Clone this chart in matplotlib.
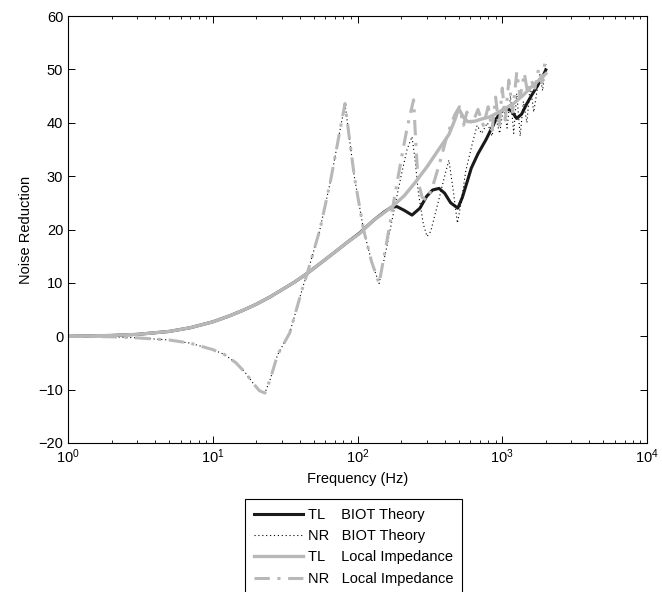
import matplotlib
matplotlib.use("Agg")
import matplotlib.pyplot as plt

plt.rcParams['font.family'] = ['Liberation Sans', 'DejaVu Sans']

# ---- data ----
tl_biot_f = [1, 2, 3, 5, 7, 10, 13, 16, 20, 25, 30, 37, 45, 55, 70, 85, 103, 130, 155, 170, 187,
             210, 238, 270, 300, 330, 366, 400, 440, 493, 530, 570, 611, 680, 771, 901, 970, 1035,
             1150, 1259, 1360, 1480, 1600, 1740, 1900, 2000]
tl_biot_v = [0, 0.15, 0.35, 0.9, 1.6, 2.7, 3.8, 4.8, 6.0, 7.4, 8.7, 10.2, 11.8, 13.6, 15.8, 17.6,
             19.3, 21.8, 23.4, 24.1, 24.3, 23.6, 22.7, 24.0, 26.2, 27.4, 27.7, 26.8, 25.0, 24.0,
             26.0, 28.8, 31.5, 34.2, 36.8, 40.5, 42.0, 42.7, 42.3, 40.8, 41.6, 43.6, 45.2, 46.8,
             48.6, 49.9]

tl_loc_f = [1, 2, 3, 5, 7, 10, 13, 16, 20, 25, 30, 37, 45, 55, 70, 85, 103, 130, 150, 177, 210,
            250, 303, 360, 428, 470, 490, 506, 540, 578, 650, 720, 820, 950, 1050, 1197, 1400,
            1600, 1800, 2000]
tl_loc_v = [0, 0.15, 0.35, 0.9, 1.6, 2.7, 3.8, 4.8, 6.0, 7.4, 8.7, 10.2, 11.8, 13.6, 15.8, 17.6,
            19.2, 21.8, 23.0, 24.5, 26.3, 28.8, 31.8, 34.8, 37.8, 40.5, 42.0, 42.4, 41.0, 40.2,
            40.3, 40.7, 41.1, 42.0, 42.7, 43.6, 45.2, 46.8, 48.0, 49.2]

nr_biot_f = [1, 2, 3, 5, 7, 10, 12, 14.5, 17, 19, 21, 22.9, 25, 28, 34, 42, 45, 55, 65, 75, 82,
             88, 95, 110, 125, 141, 160, 180, 200, 220, 238, 250, 263, 285, 302, 320, 360, 400,
             428, 460, 490, 520, 560, 620, 670, 720, 790, 850, 900, 960, 1020, 1080, 1140, 1200,
             1260, 1330, 1400, 1480, 1560, 1650, 1740, 1820, 1900, 2000]
nr_biot_v = [0, -0.1, -0.3, -0.7, -1.3, -2.5, -3.4, -5.0, -7.0, -8.8, -10.2, -10.65, -8, -3.5,
             0.6, 9.3, 11.8, 20, 29, 38, 43.6, 37, 30, 20, 14, 9.9, 17, 24, 30, 35, 37.4, 33, 27,
             21, 18.7, 19.6, 25, 30, 33, 27, 21.2, 25, 31, 36, 39.5, 38, 40, 37.5, 41, 38, 43, 39,
             45, 38, 45.5, 37.5, 44, 40, 47, 42, 46, 49, 46, 51]

nr_loc_f = [1, 2, 3, 5, 7, 10, 12, 14.5, 17, 19, 21, 22.9, 25, 28, 34, 42, 45, 55, 65, 75, 82, 88,
            95, 110, 125, 141, 160, 180, 200, 220, 244, 252, 262, 280, 300, 330, 370, 420, 470,
            506, 540, 570, 620, 680, 740, 800, 850, 900, 950, 1000, 1050, 1110, 1180, 1260, 1330,
            1420, 1500, 1580, 1680, 1780, 1880, 2000]
nr_loc_v = [0, -0.1, -0.3, -0.7, -1.3, -2.5, -3.4, -5.0, -7.0, -8.8, -10.2, -10.65, -8, -3.5, 0.6,
            9.3, 11.8, 20, 29, 38, 43.6, 37, 30, 20, 14, 9.9, 18, 26, 33, 39, 44.3, 37, 29, 26,
            25.5, 28, 32.5, 38, 41.5, 43, 39.5, 42, 39.8, 42.5, 39.5, 43, 38.6, 44.8, 39, 46.5,
            40.5, 48, 42, 49.5, 44.8, 49.3, 45.5, 48, 46.5, 50, 47.5, 52.5]

labels = ["TL    BIOT Theory", "NR   BIOT Theory", "TL    Local Impedance", "NR   Local Impedance"]
y_ticks = [-20, -10, 0, 10, 20, 30, 40, 50, 60]

# ---- figure ----
fig = plt.figure(figsize=(6.62, 5.92), dpi=100)
ax = fig.add_axes([68/662, (592-443)/592, (647-68)/662, (443-16)/592])

gray = '#b8b8b8'
l1, = ax.plot(tl_biot_f, tl_biot_v, color='#1a1a1a', lw=2.2, label=labels[0])
l2, = ax.plot(nr_biot_f, nr_biot_v, color='black', lw=0.8, ls=(0, (1, 2.5)), label=labels[1])
l3, = ax.plot(tl_loc_f, tl_loc_v, color=gray, lw=2.4, label=labels[2])
l4, = ax.plot(nr_loc_f, nr_loc_v, color=gray, lw=2.2, ls=(0, (5, 2.5, 1, 2.5)), label=labels[3])

ax.set_xscale('log')
ax.set_xlim(1, 1e4)
ax.set_ylim(-20, 60)
ax.set_yticks(y_ticks)
ax.tick_params(which='both', direction='in', top=True, right=True, labelsize=10.5)
ax.tick_params(which='major', length=5, width=0.7)
ax.tick_params(which='minor', length=2.5, width=0.6)
for s in ax.spines.values():
    s.set_linewidth(0.8)

ax.set_xlabel("Frequency (Hz)", fontsize=10.5, labelpad=4)
ax.set_ylabel("Noise Reduction", fontsize=10.5, labelpad=4)

leg = fig.legend(handles=[l1, l2, l3, l4], loc='upper left',
                 bbox_to_anchor=(245/662, (592-499)/592), fontsize=10.5,
                 frameon=True, fancybox=False, edgecolor='black', framealpha=1,
                 handlelength=3.4, handletextpad=0.3, labelspacing=0.5, borderpad=0.6,
                 borderaxespad=0)
leg.get_frame().set_linewidth(0.8)

fig.savefig("out.png", dpi=100)
